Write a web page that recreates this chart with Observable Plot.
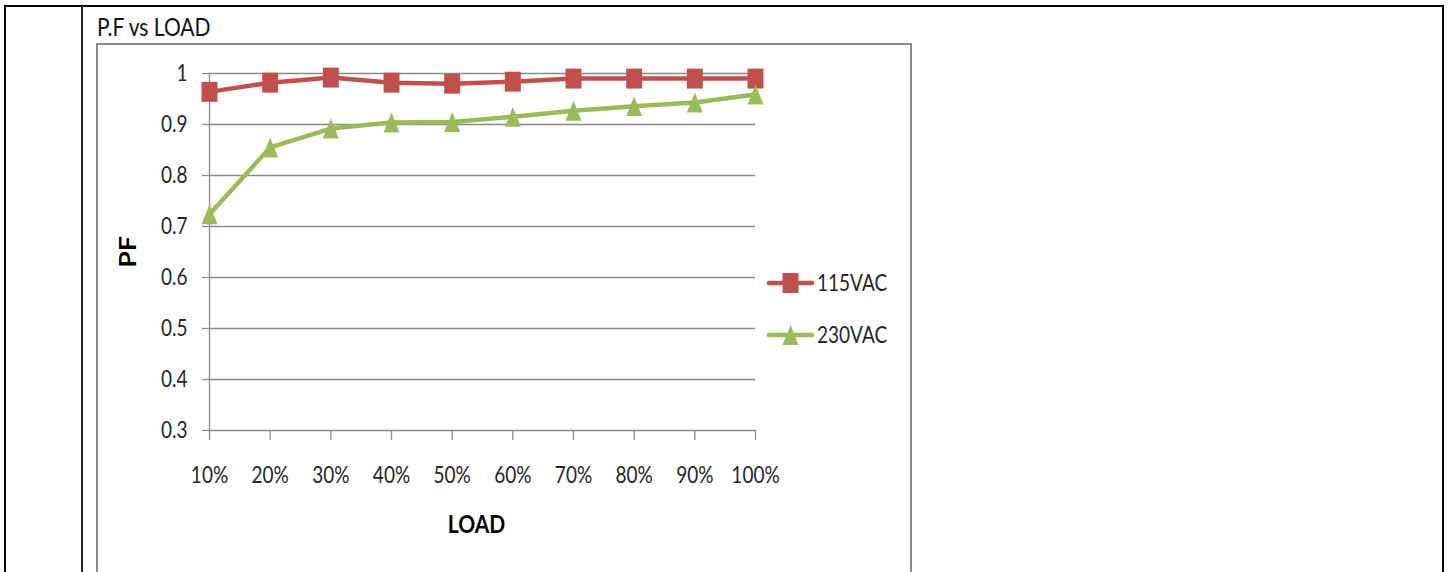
<!DOCTYPE html>
<html>
<head>
<meta charset="utf-8">
<script src="https://cdn.jsdelivr.net/npm/d3@7"></script>
<script src="https://cdn.jsdelivr.net/npm/@observablehq/plot@0.6"></script>
<style>
  html, body { margin: 0; padding: 0; background: #fff; }
  #page { position: relative; width: 1451px; height: 572px; overflow: hidden; font-family: Lato, "Open Sans", sans-serif; }
  #page svg.plot { position: absolute; left: 0; top: 0; }
  .abs { position: absolute; }
  .stretch { display: inline-block; transform: scaleY(1.22); transform-origin: center; }
</style>
</head>
<body>
<div id="page"></div>
<script>
// ---- data ----
const loads = ["10%", "20%", "30%", "40%", "50%", "60%", "70%", "80%", "90%", "100%"];
const pf115 = [0.964, 0.982, 0.992, 0.982, 0.980, 0.984, 0.990, 0.990, 0.990, 0.990];
const pf230 = [0.724, 0.855, 0.892, 0.904, 0.905, 0.915, 0.927, 0.936, 0.943, 0.959];
const seriesNames = ["115VAC", "230VAC"];
const seriesColors = ["#C0504D", "#9BBB59"];
const yTicks = [0.3, 0.4, 0.5, 0.6, 0.7, 0.8, 0.9, 1];
const titleText = "P.F vs LOAD";
const xLabel = "LOAD";
const yLabel = "PF";

const rows = [];
loads.forEach((l, i) => rows.push({load: l, pf: pf115[i], series: seriesNames[0]}));
loads.forEach((l, i) => rows.push({load: l, pf: pf230[i], series: seriesNames[1]}));

const STRETCH = 1.25;
const squareSym = {
  draw(ctx, size) {
    const w = Math.sqrt(size) / 2, h = w * STRETCH;
    ctx.moveTo(-w, -h); ctx.lineTo(w, -h); ctx.lineTo(w, h); ctx.lineTo(-w, h); ctx.closePath();
  }
};
const triSym = {
  draw(ctx, size) {
    const w = Math.sqrt(size) / 2, h = w * STRETCH;
    ctx.moveTo(0, -h); ctx.lineTo(w, h); ctx.lineTo(-w, h); ctx.closePath();
  }
};

const page = document.getElementById("page");

function box(style) { const d = document.createElement("div"); d.className = "abs"; Object.assign(d.style, style); page.appendChild(d); return d; }
// table borders
box({left: "4px", top: "5px", width: "1436px", height: "600px", borderLeft: "2px solid #000", borderTop: "2px solid #000", borderRight: "2px solid #000"});
box({left: "81px", top: "6px", width: "2px", height: "600px", background: "#222"});
// chart area frame
box({left: "96px", top: "43px", width: "812px", height: "600px", border: "2px solid #8a8a8a"});

// title
const t = box({left: "97px", top: "13px", fontSize: "21px", color: "#111", whiteSpace: "nowrap"});
t.innerHTML = `<span class="stretch">${titleText}</span>`;

const grid = "#8a8a8a";
const chart = Plot.plot({
  width: 1451,
  height: 572,
  marginLeft: 209,
  marginRight: 696,
  marginTop: 73,
  marginBottom: 142,
  style: {background: "transparent", fontFamily: "Lato, 'Open Sans', sans-serif", fontSize: "19px", color: "#262626", overflow: "visible"},
  x: {type: "point", domain: loads, padding: 0, round: false, label: null},
  y: {domain: [0.3, 1], label: null},
  color: {domain: seriesNames, range: seriesColors},
  marks: [
    Plot.ruleY(yTicks, {stroke: grid, strokeWidth: 1.3}),
    Plot.axisY(yTicks, {tickSize: 7, tickPadding: 15, stroke: grid, strokeOpacity: 1, strokeWidth: 1.3, tickFormat: d3.format("~g"), fill: "#262626", fontSize: 19, label: null}),
    Plot.axisX({tickSize: 10, tickPadding: 27, stroke: grid, strokeOpacity: 1, strokeWidth: 1.3, fill: "#262626", fontSize: 19, label: null}),
    Plot.frame({anchor: "left", stroke: grid, strokeWidth: 1.3}),
    Plot.text([yLabel], {frameAnchor: "left", dx: -81, dy: 13, rotate: -90, fontWeight: "bold", fontSize: 22, fill: "#000"}),
    Plot.text([xLabel], {frameAnchor: "bottom", dx: -6, dy: 101, fontWeight: "bold", fontSize: 21, fill: "#000"}),
    Plot.line(rows, {x: "load", y: "pf", z: "series", stroke: "series", strokeWidth: 4.5, strokeLinejoin: "round"}),
    Plot.dot(rows.filter(d => d.series === seriesNames[0]), {x: "load", y: "pf", r: 9, symbol: squareSym, fill: seriesColors[0], stroke: "none"}),
    Plot.dot(rows.filter(d => d.series === seriesNames[1]), {x: "load", y: "pf", r: 9, symbol: triSym, fill: seriesColors[1], stroke: "none"})
  ]
});
chart.classList.add("plot");
page.appendChild(chart);

// stretch text vertically (on screen) around its own centre, like the reference
d3.select(chart).selectAll("text").each(function () {
  const tr = this.getAttribute("transform") || "";
  const bb = this.getBBox();
  if (tr.includes("rotate")) {
    const cx = bb.x + bb.width / 2;
    this.setAttribute("transform", `${tr} translate(${cx},0) scale(1.22,1) translate(${-cx},0)`);
  } else {
    const cy = bb.y + bb.height / 2;
    this.setAttribute("transform", `${tr} translate(0,${cy}) scale(1,1.22) translate(0,${-cy})`);
  }
});

// legend
const legendItems = [{y: 283, sym: squareSym}, {y: 335, sym: triSym}];
seriesNames.forEach((name, i) => {
  const it = legendItems[i];
  const svg = d3.select(page).append("svg").attr("class", "abs")
    .style("left", "765px").style("top", (it.y - 12) + "px")
    .attr("width", 52).attr("height", 24);
  svg.append("line").attr("x1", 4).attr("x2", 47).attr("y1", 12).attr("y2", 12)
    .attr("stroke", seriesColors[i]).attr("stroke-width", 4.5).attr("stroke-linecap", "round");
  const p = d3.path(); it.sym.draw(p, Math.PI * 81);
  svg.append("path").attr("d", p.toString()).attr("transform", "translate(25.5,12)").attr("fill", seriesColors[i]);
  const lab = box({left: "817px", top: (it.y - 13) + "px", fontSize: "19px", color: "#262626", whiteSpace: "nowrap", lineHeight: "24px"});
  lab.innerHTML = `<span class="stretch">${name}</span>`;
});
</script>
</body>
</html>
